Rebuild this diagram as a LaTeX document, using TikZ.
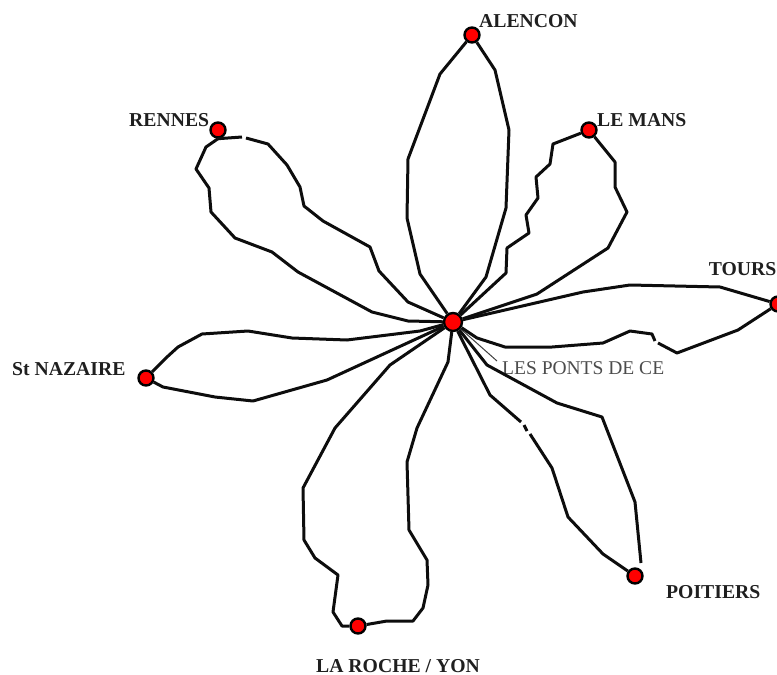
\documentclass[tikz,border=0pt]{standalone}
\usepackage{fontspec}
\setmainfont{Liberation Serif}
\tikzset{
  town/.style={circle,draw=black,fill=red,line width=2.4pt,minimum size=15pt,inner sep=0pt},
  hub/.style={town,minimum size=18pt},
  route/.style={draw=black!95,line width=3pt,line join=round},
  lead/.style={draw=black!75,line width=1pt},
  cityname/.style={anchor=base west,inner sep=0pt,font=\fontsize{19.7pt}{20pt}\selectfont\bfseries,text=black!88},
  minor/.style={anchor=base west,inner sep=0pt,font=\fontsize{19.5pt}{20pt}\selectfont,text=black!70}
}
\begin{document}
\begin{tikzpicture}[x=1pt,y=-1pt]
\useasboundingbox (0,0) rectangle (777,675);
\node[hub] (c) at (453,322) {};
\node[town] (alencon) at (472,35) {};
\node[town] (lemans) at (589,130) {};
\node[town] (tours) at (778,304) {};
\node[town] (rennes) at (218,130) {};
\node[town] (nazaire) at (146,378) {};
\node[town] (roche) at (358,626) {};
\node[town] (poitiers) at (635,576) {};
\node[cityname] (lalencon) at (479,27) {ALENCON};
\node[cityname] (lrennes) at (129,126) {RENNES};
\node[cityname] (llemans) at (597,126) {LE MANS};
\node[cityname,anchor=base east] (ltours) at (776.5,275) {TOURS};
\node[cityname] (lnazaire) at (12,375) {St NAZAIRE};
\node[cityname] (lpoitiers) at (666,598) {POITIERS};
\node[cityname] (lroche) at (316,672) {LA ROCHE / YON};
\node[minor] (lponts) at (502,374) {LES PONTS DE CE};
\coordinate (pontsend) at (497,361);
\draw[lead] (c) -- (pontsend);
% Alencon
\draw[route] (c) -- (420,274) -- (407,218) -- (408,159) -- (440,74) -- (alencon);
\draw[route] (alencon) -- (495,70) -- (509,130) -- (506,208) -- (486,277) -- (c);
% Le Mans
\draw[route] (lemans) -- (553,144) -- (550,164) -- (536,177) -- (538,198) -- (526,215) -- (529,233) -- (507,248) -- (506,273) -- (c);
\draw[route] (lemans) -- (615,162) -- (615,187) -- (627,212) -- (608,248) -- (537,294) -- (c);
% Tours
\draw[route] (c) -- (583,292) -- (630,285) -- (720,287) -- (tours);
\draw[route] (c) -- (477,338) -- (505,347) -- (552,347) -- (603,343) -- (630,331) -- (652,334) -- (655,341) (658,343) -- (677,353) -- (738,330) -- (tours);
% Rennes
\draw[route] (rennes.south) -- (242,137) (246,138) -- (268,144) -- (287,165) -- (300,187) -- (304,206) -- (323,221) -- (370,247) -- (379,271) -- (408,302) -- (c);
\draw[route] (rennes.south) -- (206,147) -- (196,169) -- (209,188) -- (211,212) -- (235,238) -- (272,252) -- (298,272) -- (372,312) -- (408,321) -- (c);
% St Nazaire
\draw[route] (nazaire) -- (167,357) -- (178,347) -- (202,334) -- (248,331) -- (292,338) -- (347,340) -- (420,331) -- (c);
\draw[route] (nazaire) -- (163,387) -- (215,397) -- (253,401) -- (327,380) -- (c);
% La Roche
\draw[route] (c) -- (390,365) -- (335,428) -- (303,488) -- (304,540) -- (315,558) -- (338,575) -- (333,612) -- (342,626) -- (roche);
\draw[route] (roche) -- (387,621) -- (413,621) -- (423,608) -- (428,585) -- (427,560) -- (409,530) -- (407,462) -- (417,428) -- (448,362) -- (c);
% Poitiers
\draw[route] (c) -- (490,395) -- (521,422) (524,425) -- (527,431) (530,434) -- (552,468) -- (568,517) -- (603,554) -- (poitiers);
\draw[route] (c) -- (487,365) -- (557,403) -- (602,417) -- (635,502) -- (641,563);
\end{tikzpicture}
\end{document}
